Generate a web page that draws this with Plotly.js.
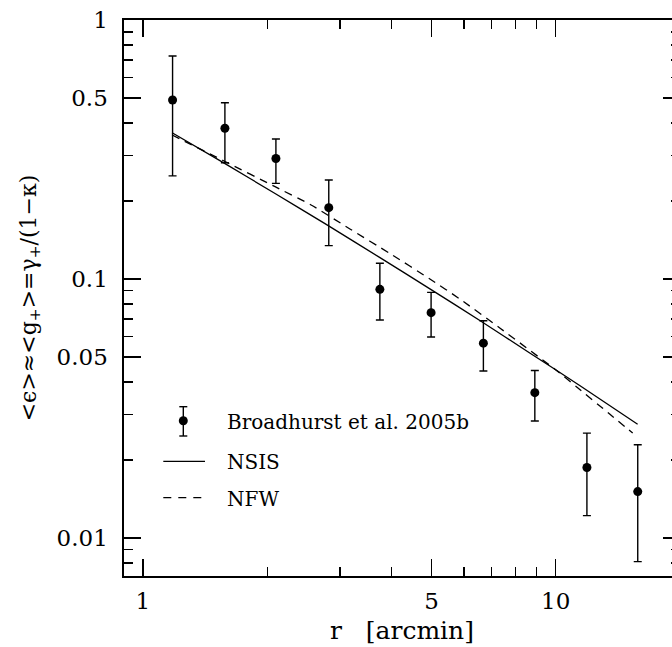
<!DOCTYPE html>
<html>
<head>
<meta charset="utf-8">
<script src="https://cdn.plot.ly/plotly-3.0.1.min.js"></script>
<style>
html,body{margin:0;padding:0;overflow:hidden;background:#fff;}
#chart{width:700px;height:647px;}
</style>
</head>
<body>
<div id="chart"></div>
<script>
// Broadhurst et al. 2005b data points (r in arcmin)
var r      = [1.18, 1.58, 2.10, 2.82, 3.75, 4.99, 6.68, 8.90, 11.9, 15.8];
var shear  = [0.491, 0.382, 0.292, 0.1885, 0.0912, 0.0741, 0.0565, 0.0364, 0.0187, 0.0151];
var shearHi= [0.726, 0.479, 0.347, 0.241, 0.115, 0.0888, 0.069, 0.0443, 0.0254, 0.0229];
var shearLo= [0.250, 0.281, 0.234, 0.1345, 0.0694, 0.0597, 0.0441, 0.0283, 0.0122, 0.0081];

// NSIS model curve
var nsisR = [1.177, 1.581, 2.090, 2.761, 3.752, 4.957, 6.549, 8.651, 11.43, 15.79];
var nsisG = [0.3671, 0.2788, 0.2138, 0.1635, 0.1209, 0.0916, 0.0691, 0.0518, 0.0388, 0.0275];

// NFW model curve
var nfwR = [1.177, 1.581, 2.090, 2.555, 3.173, 3.964, 4.957, 5.857, 7.319, 9.94, 11.30, 13.51, 15.36];
var nfwG = [0.3597, 0.2842, 0.2272, 0.1931, 0.1560, 0.1255, 0.1000, 0.0837, 0.0647, 0.0449, 0.0380, 0.0301, 0.0254];

var xTickVals = [1, 5, 10];
var xTickText = ['1', '5', '10'];
var xMinor = [2, 3, 4, 6, 7, 8, 9];
var yTickVals = [0.01, 0.05, 0.1, 0.5, 1];
var yTickText = ['0.01', '0.05', '0.1', '0.5', '1'];
var yMinor = [0.008, 0.009, 0.02, 0.03, 0.04, 0.06, 0.07, 0.08, 0.09, 0.2, 0.3, 0.4, 0.6, 0.7, 0.8, 0.9];

var errPlus = shear.map(function(v, i){ return shearHi[i] - v; });
var errMinus = shear.map(function(v, i){ return v - shearLo[i]; });

var FONT = "'DejaVu Serif', 'Liberation Serif', serif";

var traces = [
  {x: nsisR, y: nsisG, mode: 'lines', line: {color: '#000', width: 1.3, shape: 'spline', smoothing: 0.6}, name: 'NSIS', showlegend: false, hoverinfo: 'skip'},
  {x: nfwR, y: nfwG, mode: 'lines', line: {color: '#000', width: 1.3, dash: '8px,6px', shape: 'spline', smoothing: 0.6}, name: 'NFW', showlegend: false, hoverinfo: 'skip'},
  {x: r, y: shear, mode: 'markers', marker: {color: '#000', size: 9},
   error_y: {type: 'data', symmetric: false, array: errPlus, arrayminus: errMinus, color: '#000', thickness: 1.4, width: 4},
   name: 'Broadhurst et al. 2005b', showlegend: false}
];

function px(x){ return (x - 124) / 556; }
function py(y){ return (576 - y) / 556; }

var shapes = [
  {type: 'line', xref: 'paper', yref: 'paper', x0: px(183.3), x1: px(183.3), y0: py(406.7), y1: py(436), line: {color: '#000', width: 1.4}},
  {type: 'line', xref: 'paper', yref: 'paper', x0: px(179.3), x1: px(187.3), y0: py(406.7), y1: py(406.7), line: {color: '#000', width: 1.4}},
  {type: 'line', xref: 'paper', yref: 'paper', x0: px(179.3), x1: px(187.3), y0: py(436), y1: py(436), line: {color: '#000', width: 1.4}},
  {type: 'circle', xref: 'paper', yref: 'paper', x0: px(178.8), x1: px(187.8), y0: py(416.2), y1: py(425.2), fillcolor: '#000', line: {color: '#000', width: 0}},
  {type: 'line', xref: 'paper', yref: 'paper', x0: px(163.3), x1: px(205), y0: py(461.3), y1: py(461.3), line: {color: '#000', width: 1.3}},
  {type: 'line', xref: 'paper', yref: 'paper', x0: px(163.3), x1: px(205), y0: py(497.7), y1: py(497.7), line: {color: '#000', width: 1.3, dash: '8px,7px'}}
];

var annotations = [
  {xref: 'paper', yref: 'paper', x: px(225), y: py(421.5), xanchor: 'left', yanchor: 'middle', showarrow: false, text: 'Broadhurst et al. 2005b', font: {family: FONT, size: 20, color: '#000'}},
  {xref: 'paper', yref: 'paper', x: px(225), y: py(461.5), xanchor: 'left', yanchor: 'middle', showarrow: false, text: 'NSIS', font: {family: FONT, size: 20, color: '#000'}},
  {xref: 'paper', yref: 'paper', x: px(225), y: py(498.5), xanchor: 'left', yanchor: 'middle', showarrow: false, text: 'NFW', font: {family: FONT, size: 20, color: '#000'}}
];

var axisCommon = {
  type: 'log', showgrid: false, zeroline: false, showline: true, linecolor: '#000', linewidth: 1.6,
  mirror: 'allticks', ticks: 'inside', ticklen: 17, tickwidth: 1.3, tickcolor: '#000',
  tickmode: 'array', tickfont: {family: FONT, size: 23, color: '#000'}
};

var layout = {
  width: 700, height: 647,
  margin: {l: 124, r: 20, t: 20, b: 71, pad: 0},
  paper_bgcolor: '#fff', plot_bgcolor: '#fff',
  showlegend: false,
  font: {family: FONT, color: '#000'},
  xaxis: Object.assign({}, axisCommon, {
    range: [Math.log10(0.9), Math.log10(20)],
    tickvals: xTickVals, ticktext: xTickText, ticklabelstandoff: 4,
    minor: {tickmode: 'array', tickvals: xMinor, ticks: 'inside', ticklen: 9, tickwidth: 1.3, tickcolor: '#000', showgrid: false},
    title: {text: 'r\u00a0\u00a0\u00a0[arcmin]', font: {family: FONT, size: 25, color: '#000'}, standoff: 8}
  }),
  yaxis: Object.assign({}, axisCommon, {
    range: [Math.log10(0.00713), 0],
    tickvals: yTickVals, ticktext: yTickText, ticklabelstandoff: 10,
    minor: {tickmode: 'array', tickvals: yMinor, ticks: 'inside', ticklen: 9, tickwidth: 1.3, tickcolor: '#000', showgrid: false},
    title: {text: '<\u03f5>\u2248<g<sub>+</sub>>=\u03b3<sub>+</sub>/(1\u2212\u03ba)', font: {family: FONT, size: 22, color: '#000'}, standoff: 14}
  }),
  shapes: shapes,
  annotations: annotations
};

Plotly.newPlot('chart', traces, layout, {staticPlot: true, displayModeBar: false});
</script>
</body>
</html>
